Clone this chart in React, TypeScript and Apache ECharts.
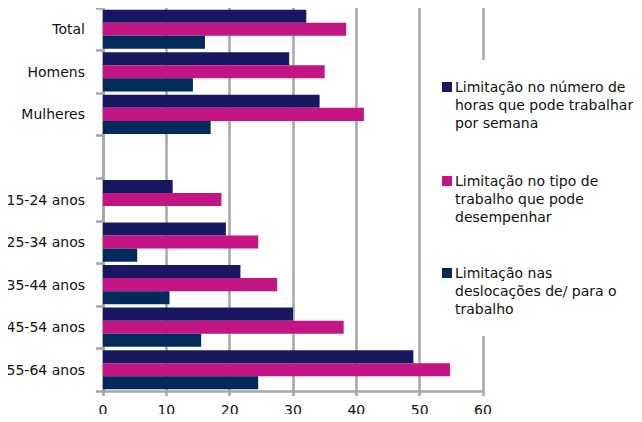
import React, { useEffect, useRef } from "react";
import * as echarts from "echarts";

const categories = ["Total", "Homens", "Mulheres", "", "15-24 anos", "25-34 anos", "35-44 anos", "45-54 anos", "55-64 anos"];
const seriesNames = [
  "Limitação no número de\nhoras que pode trabalhar\npor semana",
  "Limitação no tipo de\ntrabalho que pode\ndesempenhar",
  "Limitação nas\ndeslocações de/ para o\ntrabalho",
];
const horas = [32.1, 29.4, 34.2, null, 11.0, 19.4, 21.7, 30.0, 49.0];
const tipo = [38.4, 35.0, 41.2, null, 18.7, 24.5, 27.5, 38.0, 54.8];
const deslocacoes = [16.1, 14.2, 17.0, null, null, 5.4, 10.5, 15.5, 24.5];
const colors = ["#17185f", "#c51483", "#002a5c"];
const xTicks = { min: 0, max: 60, interval: 10 };

export default function App() {
  const ref = useRef<HTMLDivElement>(null);
  useEffect(() => {
    const chart = echarts.init(ref.current!, null, { renderer: "svg" });
    const font = "DejaVu Sans, Verdana, sans-serif";
    const gray = "#a6a6a8";
    const legendTops = [78, 172, 264];
    const legendGraphics: any[] = [
      { type: "rect", left: 436, top: 60, shape: { width: 206, height: 276 }, style: { fill: "#fff" }, z: 5 },
    ];
    seriesNames.forEach((n, i) => {
      legendGraphics.push({
        type: "rect",
        left: 442,
        top: legendTops[i] + 4,
        shape: { width: 10, height: 10 },
        style: { fill: colors[i] },
        z: 6,
      });
      legendGraphics.push({
        type: "text",
        left: 455,
        top: legendTops[i],
        style: { text: n, fill: "#111", font: `14px ${font}`, lineHeight: 18 },
        z: 6,
      });
    });
    const data = [horas, tipo, deslocacoes];
    chart.setOption({
      animation: false,
      textStyle: { fontFamily: font },
      grid: { left: 103, right: 159, top: 8, bottom: 31, containLabel: false },
      xAxis: {
        type: "value",
        min: xTicks.min,
        max: xTicks.max,
        interval: xTicks.interval,
        axisLine: { show: true, lineStyle: { color: gray, width: 2.5 } },
        axisTick: { show: true, length: 5, lineStyle: { color: gray, width: 2.5 } },
        splitLine: { show: true, lineStyle: { color: gray, width: 2.5 } },
        axisLabel: { color: "#111", fontSize: 14, margin: 12, fontFamily: font },
      },
      yAxis: {
        type: "category",
        inverse: true,
        data: categories,
        axisLine: { show: true, lineStyle: { color: gray, width: 2.5 } },
        axisTick: { show: true, length: 7, lineStyle: { color: gray, width: 2.5 } },
        axisLabel: { color: "#111", fontSize: 14, margin: 18, fontFamily: font },
      },
      series: data.map((d, i) => ({
        type: "bar",
        name: seriesNames[i],
        data: d,
        barGap: "0%",
        barCategoryGap: "8%",
        itemStyle: { color: colors[i] },
        z: 3,
      })),
      graphic: legendGraphics,
    });
    return () => chart.dispose();
  }, []);
  return <div ref={ref} style={{ width: 642, height: 422, margin: -8 }} />;
}
